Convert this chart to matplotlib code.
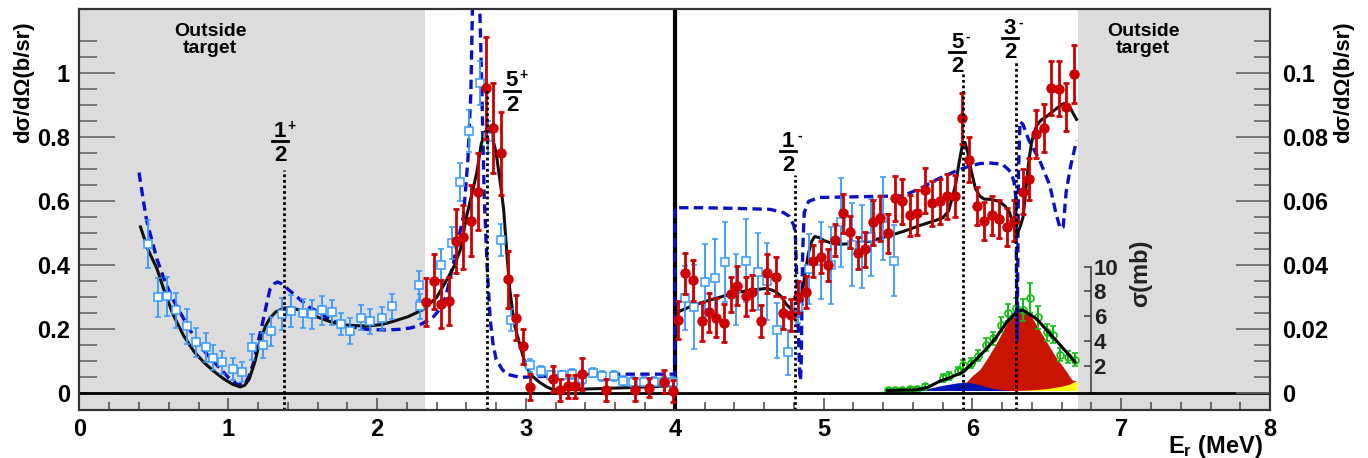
import numpy as np
import matplotlib.pyplot as plt
from matplotlib.ticker import FixedLocator, MultipleLocator, FormatStrFormatter

plt.rcParams['font.family'] = ['Liberation Sans', 'DejaVu Sans']
plt.rcParams['font.weight'] = 'bold'
plt.rcParams['mathtext.fontset'] = 'custom'
plt.rcParams['mathtext.bf'] = 'Liberation Sans:bold'
plt.rcParams['mathtext.rm'] = 'Liberation Sans:bold'

# ---- fit (black) and calculation (blue dashed), d sigma / d Omega in b/sr
fit1_e = [0.41, 0.46, 0.52, 0.57, 0.63, 0.70, 0.77, 0.84, 0.90, 0.97, 1.03, 1.08, 1.11, 1.14,
          1.18, 1.21, 1.25, 1.28, 1.32, 1.37, 1.42, 1.48, 1.55, 1.63, 1.71, 1.80, 1.93, 2.03,
          2.11, 2.21, 2.31, 2.40, 2.47, 2.52, 2.56, 2.60, 2.64, 2.67, 2.70, 2.73, 2.75, 2.77,
          2.80, 2.83, 2.85, 2.87, 2.89, 2.92, 2.96, 3.00, 3.04, 3.09, 3.14, 3.18, 3.30, 3.50,
          3.70, 3.85, 3.99]
fit1_y = [0.52, 0.45, 0.39, 0.32, 0.245, 0.18, 0.13, 0.095, 0.07, 0.045, 0.028, 0.02, 0.025, 0.044,
          0.10, 0.16, 0.21, 0.235, 0.255, 0.266, 0.268, 0.26, 0.247, 0.233, 0.22, 0.213, 0.21, 0.215,
          0.225, 0.24, 0.262, 0.30, 0.356, 0.40, 0.45, 0.55, 0.63, 0.69, 0.78, 0.82, 0.825, 0.81,
          0.75, 0.65, 0.575, 0.45, 0.33, 0.22, 0.15, 0.085, 0.055, 0.035, 0.02, 0.012, 0.012, 0.015,
          0.018, 0.021, 0.024]
fit2_e = [4.00, 4.10, 4.19, 4.30, 4.41, 4.52, 4.62, 4.68, 4.72, 4.75, 4.79, 4.81, 4.83, 4.86,
          4.88, 4.90, 4.92, 4.94, 4.97, 5.00, 5.06, 5.12, 5.19, 5.31, 5.42, 5.53, 5.65, 5.75,
          5.80, 5.84, 5.87, 5.89, 5.91, 5.93, 5.95, 5.97, 5.99, 6.02, 6.05, 6.08, 6.12, 6.18,
          6.22, 6.25, 6.28, 6.30, 6.32, 6.34, 6.36, 6.38, 6.40, 6.43, 6.46, 6.50, 6.56, 6.60,
          6.62, 6.64, 6.66, 6.68, 6.70]
fit2_y = [0.25, 0.27, 0.285, 0.30, 0.315, 0.323, 0.328, 0.318, 0.30, 0.278, 0.26, 0.26, 0.27, 0.325,
          0.39, 0.44, 0.475, 0.49, 0.487, 0.478, 0.468, 0.466, 0.468, 0.475, 0.49, 0.505, 0.525, 0.54,
          0.548, 0.57, 0.62, 0.66, 0.72, 0.77, 0.784, 0.75, 0.70, 0.64, 0.616, 0.607, 0.606, 0.60,
          0.585, 0.565, 0.52, 0.497, 0.52, 0.55, 0.64, 0.73, 0.79, 0.835, 0.853, 0.866, 0.888, 0.903,
          0.906, 0.90, 0.89, 0.872, 0.856]

calc_e = [0.40, 0.43, 0.45, 0.48, 0.52, 0.57, 0.62, 0.68, 0.74, 0.81, 0.88, 0.95, 1.00, 1.06,
          1.11, 1.14, 1.17, 1.20, 1.23, 1.26, 1.28, 1.31, 1.33, 1.36, 1.39, 1.44, 1.48, 1.54,
          1.60, 1.65, 1.71, 1.80, 1.93, 2.05, 2.15, 2.22, 2.27, 2.33, 2.38, 2.42, 2.46, 2.49,
          2.51, 2.54, 2.58, 2.61, 2.63, 2.64, 2.65, 2.665, 2.68, 2.69, 2.70, 2.71, 2.72, 2.73,
          2.74, 2.76, 2.78, 2.80, 2.84, 2.87, 2.96, 3.16, 3.50, 3.99, 4.00,
          4.00, 4.19, 4.40, 4.64, 4.73, 4.77, 4.80, 4.81, 4.82, 4.83, 4.84, 4.845, 4.85, 4.855,
          4.86, 4.87, 4.90, 4.97, 5.31, 5.53, 5.65, 5.76, 5.89, 5.98, 6.05, 6.11, 6.20, 6.24,
          6.26, 6.28, 6.29, 6.295, 6.30, 6.305, 6.31, 6.32, 6.34, 6.38, 6.45, 6.52, 6.56, 6.59,
          6.61, 6.63, 6.66, 6.70]
calc_y = [0.69, 0.60, 0.543, 0.49, 0.42, 0.356, 0.30, 0.25, 0.20, 0.148, 0.11, 0.075, 0.05, 0.028,
          0.028, 0.055, 0.096, 0.16, 0.22, 0.285, 0.325, 0.343, 0.348, 0.342, 0.33, 0.31, 0.294, 0.27,
          0.256, 0.24, 0.225, 0.21, 0.20, 0.198, 0.20, 0.204, 0.21, 0.225, 0.24, 0.262, 0.30, 0.36,
          0.40, 0.47, 0.553, 0.73, 0.94, 1.19, 1.35, 1.45, 1.35, 1.20, 1.02, 0.815, 0.61, 0.50,
          0.39, 0.23, 0.15, 0.106, 0.075, 0.06, 0.05, 0.054, 0.06, 0.06, 0.06,
          0.58, 0.58, 0.578, 0.575, 0.565, 0.553, 0.525, 0.50, 0.356, 0.20, 0.06, 0.04, 0.10, 0.30,
          0.45, 0.565, 0.60, 0.612, 0.615, 0.617, 0.64, 0.668, 0.695, 0.71, 0.718, 0.72, 0.716, 0.70,
          0.69, 0.66, 0.62, 0.45, 0.17, 0.40, 0.70, 0.85, 0.84, 0.79, 0.73, 0.65, 0.565, 0.515,
          0.52, 0.63, 0.71, 0.79]

# ---- data: red filled circles
red_e = [2.33, 2.38, 2.43, 2.48, 2.53, 2.58, 2.63, 2.68, 2.73, 2.78, 2.83, 2.88, 2.93, 2.98,
         3.03, 3.18, 3.23, 3.28, 3.33, 3.38, 3.54, 3.73, 3.83, 3.93, 3.99,
         4.02, 4.07, 4.12, 4.18, 4.23, 4.28, 4.33, 4.38, 4.42, 4.48, 4.52, 4.58, 4.62, 4.68,
         4.73, 4.78, 4.83, 4.88, 4.93, 4.98, 5.03, 5.08, 5.13, 5.18, 5.23, 5.28, 5.33, 5.38,
         5.43, 5.48, 5.53, 5.58, 5.63, 5.68, 5.73, 5.78, 5.83, 5.88, 5.93, 5.98, 6.03, 6.08,
         6.13, 6.18, 6.23, 6.28, 6.34, 6.38, 6.43, 6.48, 6.53, 6.58, 6.63, 6.68]
red_y = [0.287, 0.35, 0.28, 0.29, 0.475, 0.49, 0.54, 0.63, 0.955, 0.83, 0.75, 0.356, 0.237, 0.147,
         0.019, 0.044, 0.01, 0.022, 0.022, 0.06, 0.01, 0.012, 0.018, 0.037, 0.008,
         0.23, 0.375, 0.353, 0.225, 0.253, 0.237, 0.22, 0.31, 0.337, 0.303, 0.316, 0.225, 0.375, 0.365,
         0.25, 0.244, 0.30, 0.316, 0.415, 0.425, 0.40, 0.478, 0.562, 0.503, 0.44, 0.45, 0.534, 0.547,
         0.50, 0.61, 0.60, 0.556, 0.565, 0.634, 0.594, 0.60, 0.616, 0.616, 0.86, 0.73, 0.585, 0.538,
         0.556, 0.544, 0.52, 0.54, 0.63, 0.67, 0.81, 0.83, 0.955, 0.952, 0.896, 0.997]
red_err = [0.075, 0.085, 0.075, 0.075, 0.10, 0.10, 0.11, 0.12, 0.16, 0.14, 0.13, 0.09, 0.07, 0.055,
           0.04, 0.04, 0.035, 0.035, 0.035, 0.05, 0.035, 0.035, 0.03, 0.035, 0.035,
           0.06, 0.065, 0.065, 0.06, 0.06, 0.06, 0.06, 0.055, 0.06, 0.06, 0.055, 0.05, 0.06, 0.06,
           0.05, 0.05, 0.05, 0.05, 0.05, 0.05, 0.05, 0.05, 0.06, 0.05, 0.05, 0.055, 0.07, 0.07,
           0.06, 0.07, 0.07, 0.065, 0.07, 0.07, 0.07, 0.07, 0.07, 0.065, 0.08, 0.07, 0.06, 0.06,
           0.06, 0.06, 0.06, 0.065, 0.07, 0.065, 0.075, 0.075, 0.085, 0.085, 0.075, 0.09]

# ---- data: light blue open squares
sq_e = [0.46, 0.53, 0.59, 0.65, 0.72, 0.78, 0.85, 0.90, 0.96, 1.03, 1.09, 1.16, 1.23, 1.29,
        1.36, 1.42, 1.50, 1.56, 1.63, 1.70, 1.76, 1.82, 1.89, 1.95, 2.03, 2.10, 2.28, 2.29,
        2.43, 2.50, 2.56, 2.62, 2.69, 2.745, 2.83, 2.90, 3.03, 3.10, 3.17, 3.24, 3.31, 3.38,
        3.45, 3.51, 3.59, 3.65, 3.72, 3.79, 3.86, 3.93, 3.99,
        4.07, 4.13, 4.20, 4.27, 4.34, 4.41, 4.48, 4.56, 4.62, 4.69, 4.76, 4.83, 4.90, 4.98,
        5.05, 5.12, 5.19, 5.26, 5.32, 5.40, 5.47]
sq_y = [0.466, 0.30, 0.303, 0.26, 0.21, 0.16, 0.144, 0.112, 0.097, 0.077, 0.067, 0.144, 0.15, 0.194,
        0.247, 0.256, 0.25, 0.247, 0.26, 0.253, 0.216, 0.194, 0.237, 0.225, 0.234, 0.272, 0.338, 0.272,
        0.40, 0.47, 0.66, 0.82, 0.97, 0.80, 0.48, 0.23, 0.088, 0.07, 0.056, 0.056, 0.06, 0.045,
        0.065, 0.054, 0.054, 0.04, 0.035, 0.037, 0.037, 0.037, 0.037,
        0.297, 0.27, 0.347, 0.362, 0.41, 0.325, 0.415, 0.38, 0.35, 0.197, 0.128, 0.27, 0.388, 0.415,
        0.40, 0.534, 0.465, 0.46, 0.487, 0.547, 0.415]
sq_err = [0.075, 0.06, 0.06, 0.055, 0.055, 0.045, 0.045, 0.04, 0.035, 0.035, 0.03, 0.04, 0.04, 0.045,
          0.05, 0.05, 0.045, 0.045, 0.045, 0.04, 0.035, 0.04, 0.04, 0.04, 0.035, 0.04, 0.045, 0.04,
          0.05, 0.05, 0.06, 0.065, 0.07, 0.05, 0.05, 0.035, 0.02, 0.017, 0.015, 0.015, 0.015, 0.015,
          0.015, 0.015, 0.015, 0.015, 0.015, 0.015, 0.015, 0.015, 0.015,
          0.10, 0.13, 0.12, 0.12, 0.125, 0.11, 0.13, 0.12, 0.12, 0.085, 0.07, 0.05, 0.11, 0.12,
          0.12, 0.14, 0.13, 0.13, 0.12, 0.13, 0.11]

# ---- sigma (mb) data and components
sig_e = [5.43, 5.48, 5.53, 5.58, 5.63, 5.68, 5.80, 5.84, 5.90, 5.94, 5.99, 6.04, 6.09, 6.14,
         6.19, 6.24, 6.29, 6.34, 6.39, 6.44, 6.50, 6.54, 6.59, 6.64, 6.69]
sig_mb = [0.0, 0.0, 0.05, 0.1, 0.1, 0.35, 1.0, 1.16, 1.57, 2.05, 2.2, 2.8, 3.7, 4.2,
          5.3, 6.3, 6.7, 6.5, 7.5, 5.9, 4.7, 4.5, 2.9, 2.7, 2.5]
sig_err = [0.15, 0.15, 0.15, 0.15, 0.15, 0.2, 0.3, 0.3, 0.35, 0.4, 0.4, 0.45, 0.5, 0.5,
           0.6, 0.7, 0.8, 0.9, 1.2, 0.9, 0.7, 0.7, 0.5, 0.5, 0.5]
sfit_e = [5.43, 5.62, 5.70, 5.78, 5.83, 5.88, 5.94, 6.00, 6.09, 6.16, 6.23, 6.30, 6.34, 6.43,
          6.52, 6.61, 6.69]
sfit_mb = [0.0, 0.05, 0.25, 0.75, 0.95, 1.2, 1.5, 2.2, 3.3, 4.3, 5.5, 6.4, 6.5, 5.8,
           4.6, 3.4, 2.3]
red_comp_e = [5.90, 5.96, 6.00, 6.05, 6.10, 6.16, 6.20, 6.23, 6.27, 6.31, 6.35, 6.40, 6.43, 6.47,
              6.52, 6.56, 6.61, 6.65, 6.67, 6.70]
red_comp_mb = [0.0, 0.7, 1.2, 1.7, 2.6, 3.8, 4.7, 5.4, 6.2, 6.6, 6.4, 5.9, 5.3, 4.5,
               3.5, 2.7, 1.9, 1.2, 0.85, 0.75]
blue_comp_e = [5.55, 5.60, 5.70, 5.80, 5.90, 5.95, 6.00, 6.05, 6.10, 6.15, 6.20, 6.26]
blue_comp_mb = [0.0, 0.03, 0.15, 0.42, 0.62, 0.66, 0.6, 0.45, 0.28, 0.14, 0.05, 0.0]
yel_comp_e = [6.30, 6.40, 6.50, 6.60, 6.65, 6.70]
yel_comp_mb = [0.0, 0.05, 0.15, 0.35, 0.5, 0.8]

# resonance labels: (energy, top of dotted line, label x, bar height, numerator, sign)
res_e = [1.374, 2.739, 4.808, 5.937, 6.294]
res_top = [0.698, 0.954, 0.682, 1.0, 1.04]
lab_x = [1.347, 2.906, 4.762, 5.897, 6.253]
lab_y = [0.788, 0.946, 0.757, 1.067, 1.11]
lab_num = ['1', '5', '1', '5', '3']
lab_sign = ['+', '+', '-', '-', '-']

fig = plt.figure(figsize=(13.68, 4.58), dpi=100)
ax = fig.add_axes([0.0581, 0.1048, 0.8703, 0.8749])
sax = ax.twinx()
rax = ax.twinx()
sax.set_zorder(0)
ax.set_zorder(1)
rax.set_zorder(2)
ax.patch.set_visible(False)
sax.patch.set_visible(True)
sax.patch.set_facecolor('white')

ylo, yhi = -0.052, 1.2
ax.set_xlim(0, 8)
ax.set_ylim(ylo, yhi)
rax.set_ylim(ylo / 10, yhi / 10)
mb0, mbstep = 0.009, 0.03867
sax.set_ylim((ylo - mb0) / mbstep, (yhi - mb0) / mbstep)

# background (outside target)
sax.axvspan(0, 2.322, color='#dcdcdc', lw=0, zorder=0)
sax.axvspan(6.71, 8, color='#dcdcdc', lw=0, zorder=0)

# sigma components
sax.fill_between(red_comp_e, 0, red_comp_mb, color='#c81400', lw=0, zorder=1)
sax.fill_between(blue_comp_e, 0, blue_comp_mb, color='#0014b4', lw=0, zorder=2)
sax.fill_between(yel_comp_e, 0, yel_comp_mb, color='#ffff00', lw=0, zorder=2)
sax.errorbar(sig_e, sig_mb, yerr=sig_err, fmt='o', ms=5, mfc='none', mec='#10c010', mew=1.2,
             ecolor='#10c010', elinewidth=1.5, capsize=2.5, capthick=1.5, zorder=3)
sax.plot(sfit_e, sfit_mb, color='black', lw=2.2, zorder=4)

# sigma axis
for s in ['top', 'bottom', 'left']:
    sax.spines[s].set_visible(False)
sax.spines['right'].set_position(('data', 6.796))
sax.spines['right'].set_bounds(-0.1, 10)
sax.spines['right'].set_color('#444444')
sax.spines['right'].set_linewidth(1.2)
sax.yaxis.set_major_locator(FixedLocator([2, 4, 6, 8, 10]))
sax.tick_params(axis='y', direction='in', length=5, width=1.2, color='#444444', pad=2,
                labelsize=16, labelcolor='#222222')
ax.text(7.127, 0.376, 'σ(mb)', rotation=90, ha='center', va='center', fontsize=17,
        fontweight='bold', color='#222222')

# main lines
ax.axhline(0, color='black', lw=2, zorder=2)
ax.axvline(4, color='black', lw=3, zorder=2)
ax.plot(calc_e, calc_y, color='#0a10c8', lw=2.4, ls=(0, (2.8, 1.6)), zorder=3)
ax.plot(fit1_e, fit1_y, color='#111111', lw=2.2, zorder=4)
ax.plot(fit2_e, fit2_y, color='#111111', lw=2.2, zorder=4)
ax.errorbar(sq_e, sq_y, yerr=sq_err, fmt='s', ms=6, mfc='white', mec='#3399ff', mew=1.1,
            ecolor='#3399ff', elinewidth=1.3, capsize=2.5, capthick=1.3, zorder=5)
ax.errorbar(red_e, red_y, yerr=red_err, fmt='o', ms=6.5, color='#cc0000', elinewidth=2,
            capsize=2.5, capthick=2, zorder=6)
ax.vlines(res_e, ylo, res_top, colors='black', linestyles=(0, (1, 1)), lw=2, zorder=7)

# J^pi labels
for xl, yb, num, sg in zip(lab_x, lab_y, lab_num, lab_sign):
    ax.annotate(num, xy=(xl, yb), xytext=(0, 3), textcoords='offset points', ha='center',
                va='baseline', fontsize=16, fontweight='bold', zorder=8)
    ax.annotate(sg, xy=(xl, yb), xytext=(8, 11), textcoords='offset points', ha='center',
                va='center', fontsize=10, fontweight='bold', zorder=8)
    ax.annotate('2', xy=(xl, yb), xytext=(0, -3), textcoords='offset points', ha='center',
                va='top', fontsize=16, fontweight='bold', zorder=8)
    ax.plot([xl - 0.055, xl + 0.055], [yb, yb], color='black', lw=2, zorder=8)

ax.text(0.878, 1.105, 'Outside\ntarget', ha='center', va='center', fontsize=14,
        fontweight='bold', linespacing=1.0)
ax.text(7.147, 1.105, 'Outside\ntarget', ha='center', va='center', fontsize=14,
        fontweight='bold', linespacing=1.0)

# axes styling
for a in (ax, rax):
    for s in a.spines.values():
        s.set_color('#333333')
        s.set_linewidth(1.5)
ax.xaxis.set_major_locator(MultipleLocator(1))
ax.xaxis.set_minor_locator(MultipleLocator(0.2))
ax.yaxis.set_major_locator(FixedLocator([0, 0.2, 0.4, 0.6, 0.8, 1.0]))
ax.yaxis.set_minor_locator(FixedLocator(np.arange(0.05, 1.11, 0.05)))
ax.yaxis.set_major_formatter(FormatStrFormatter('%g'))
ax.tick_params(axis='x', which='major', direction='in', length=9, width=1.2, color='#555555',
               labelsize=17, pad=6, top=False)
ax.tick_params(axis='x', which='minor', direction='in', length=5.5, width=1.2, color='#555555',
               top=False)
ax.tick_params(axis='y', which='major', direction='in', length=26, width=1.2, color='#666666',
               labelsize=17, pad=7, right=False)
ax.tick_params(axis='y', which='minor', direction='in', length=13, width=1.2, color='#666666',
               right=False)

rax.yaxis.set_major_locator(FixedLocator([0, 0.02, 0.04, 0.06, 0.08, 0.1]))
rax.yaxis.set_minor_locator(FixedLocator(np.arange(0.005, 0.111, 0.005)))
rax.yaxis.set_major_formatter(FormatStrFormatter('%g'))
rax.tick_params(axis='y', which='major', direction='in', length=24.5, width=1.2, color='#666666',
                labelsize=17, pad=8.5)
rax.tick_params(axis='y', which='minor', direction='in', length=11.5, width=1.2, color='#666666')

fig.text(24 / 1368, 1 - 82 / 458, 'dσ/dΩ(b/sr)', rotation=90, ha='center', va='center',
         fontsize=16, fontweight='bold')
fig.text(1344 / 1368, 1 - 82 / 458, 'dσ/dΩ(b/sr)', rotation=90, ha='center', va='center',
         fontsize=16, fontweight='bold')
fig.text(1263 / 1368, 1 - 453 / 458, r'$\mathbf{E_{r}}$ (MeV)', ha='right', va='baseline',
         fontsize=17, fontweight='bold')

fig.savefig('out.png', dpi=100)
